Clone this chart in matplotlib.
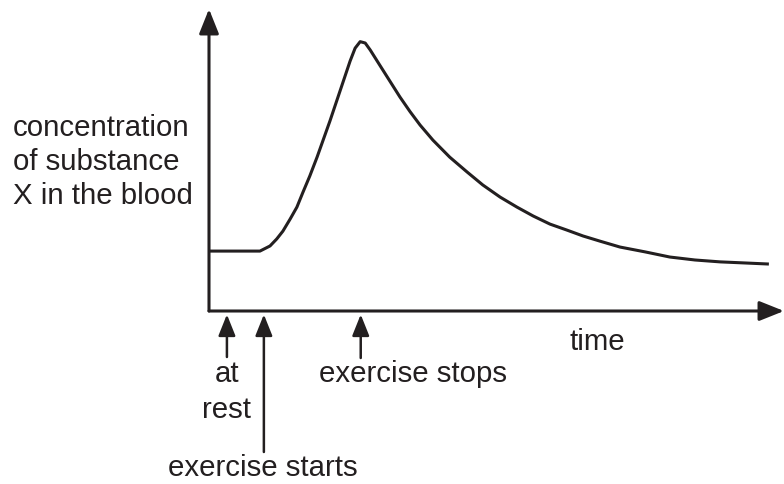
import matplotlib
matplotlib.use("Agg")
import matplotlib.pyplot as plt

plt.rcParams['font.family'] = ['Liberation Sans', 'DejaVu Sans']

# Curve (arbitrary units)
time = [0, 9.1, 10.9, 12.1, 13.2, 14.5, 15.7, 16.8, 18.0, 19.3, 21.6, 23.4, 25.2,
        26.1, 27.0, 27.9, 28.8, 30.5, 32.3, 34.1, 35.9, 37.7, 40.0, 43.0, 46.1,
        48.9, 52.0, 55.0, 57.9, 60.9, 63.9, 66.8, 69.8, 73.4, 77.9, 82.3, 86.8,
        91.3, 95.7, 100]
concentration = [22.2, 22.2, 24.1, 26.7, 29.6, 34.1, 38.5, 44.1, 50.0, 57.0, 70.4, 81.5, 92.6,
                 97.4, 99.8, 99.3, 96.7, 91.1, 85.2, 79.3, 73.9, 68.9, 63.3, 57.0, 51.5,
                 46.7, 42.2, 38.5, 35.2, 32.2, 30.0, 27.8, 25.9, 23.7, 21.9, 20.0, 18.9,
                 18.2, 17.8, 17.4]

event_times = [3.2, 9.8, 27.1]
event_labels = ["at\nrest", "exercise starts", "exercise stops"]
y_label_lines = ["concentration", "of substance", "X in the blood"]
x_label = "time"

W, H = 784, 485
fig = plt.figure(figsize=(W / 100, H / 100), dpi=100)
ax = fig.add_axes([209 / W, (H - 312) / H, (784 - 209) / W, (312 - 10) / H])
ax.set_xlim(0, 102.7)
ax.set_ylim(0, 111.9)
ax.axis('off')

ink = '#231f20'
lw_axis = 2.2
# axes with arrowheads
for tip in [(1, 0), (0, 1)]:
    ax.annotate('', xy=tip, xycoords='axes fraction', xytext=(0, 0),
                arrowprops=dict(arrowstyle='-|>,head_length=1.0,head_width=0.4', lw=lw_axis,
                                color=ink, shrinkA=0, shrinkB=0, mutation_scale=15))

ax.plot(time, concentration, color=ink, lw=2.2, solid_joinstyle='round',
        solid_capstyle='butt', clip_on=False)

# event arrows
tails = [-46, -141, -47]
for t, dy in zip(event_times, tails):
    ax.annotate('', xy=(t, 0), xycoords='data',
                xytext=(0, dy), textcoords='offset pixels',
                arrowprops=dict(arrowstyle='-|>,head_length=1.0,head_width=0.4', lw=1.8,
                                color=ink, shrinkA=0, shrinkB=2.5, mutation_scale=13))

fs = 21.2
def ftext(x, y, s, **kw):
    fig.text(x / W, 1 - y / H, s, fontsize=fs, color=ink, **kw)

ftext(227, 382, "at", ha='center', va='baseline')
ftext(227, 418, "rest", ha='center', va='baseline')
ftext(413, 382, event_labels[2], ha='center', va='baseline')
ftext(263, 476, event_labels[1], ha='center', va='baseline')
ftext(597, 350, x_label, ha='center', va='baseline')
for i, line in enumerate(y_label_lines):
    ftext(13, 136 + 34 * i, line, ha='left', va='baseline')

fig.savefig('out.png', dpi=100)
